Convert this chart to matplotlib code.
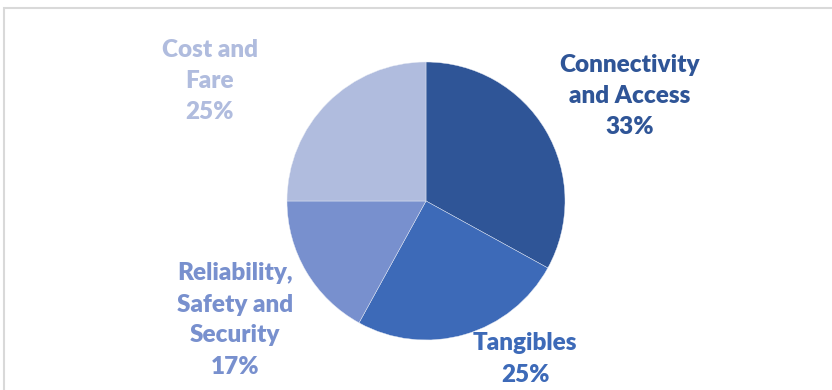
import matplotlib
matplotlib.use("Agg")
import matplotlib.pyplot as plt
from matplotlib.patches import Rectangle

categories = ["Connectivity\nand Access", "Tangibles", "Reliability,\nSafety and\nSecurity", "Cost and\nFare"]
shares = [33, 25, 17, 25]
colors = ["#2F5597", "#3D6AB8", "#7890CE", "#B0BCDE"]

# pixel layout of the reference
W, H = 832, 390
cx, cy, r = 426, 201, 139
label_px = [(630, 96), (525, 359), (235, 320), (210, 81)]

fig = plt.figure(figsize=(W / 100, H / 100), dpi=100)
ax = fig.add_axes([0, 0, 1, 1])
ax.pie(shares, colors=colors, startangle=90, counterclock=False, radius=1,
       wedgeprops=dict(linewidth=0.3, edgecolor="#e8ecf5"))
ax.set_xlim(-cx / r, (W - cx) / r)
ax.set_ylim(-(H - cy) / r, cy / r)
ax.set_aspect("equal")
ax.axis("off")

for cat, val, col, (px, py) in zip(categories, shares, colors, label_px):
    ax.text((px - cx) / r, (cy - py) / r, f"{cat}\n{val}%", color=col,
            ha="center", va="center", fontsize=17.5, fontweight="heavy",
            family="Lato", linespacing=1.5)

fig.patches.append(Rectangle((4 / W, -0.1), 1.2, 1 - 8 / H + 0.1, transform=fig.transFigure,
                             fill=False, edgecolor="#D9D9D9", linewidth=1.5))

fig.savefig("out.png", dpi=100)
